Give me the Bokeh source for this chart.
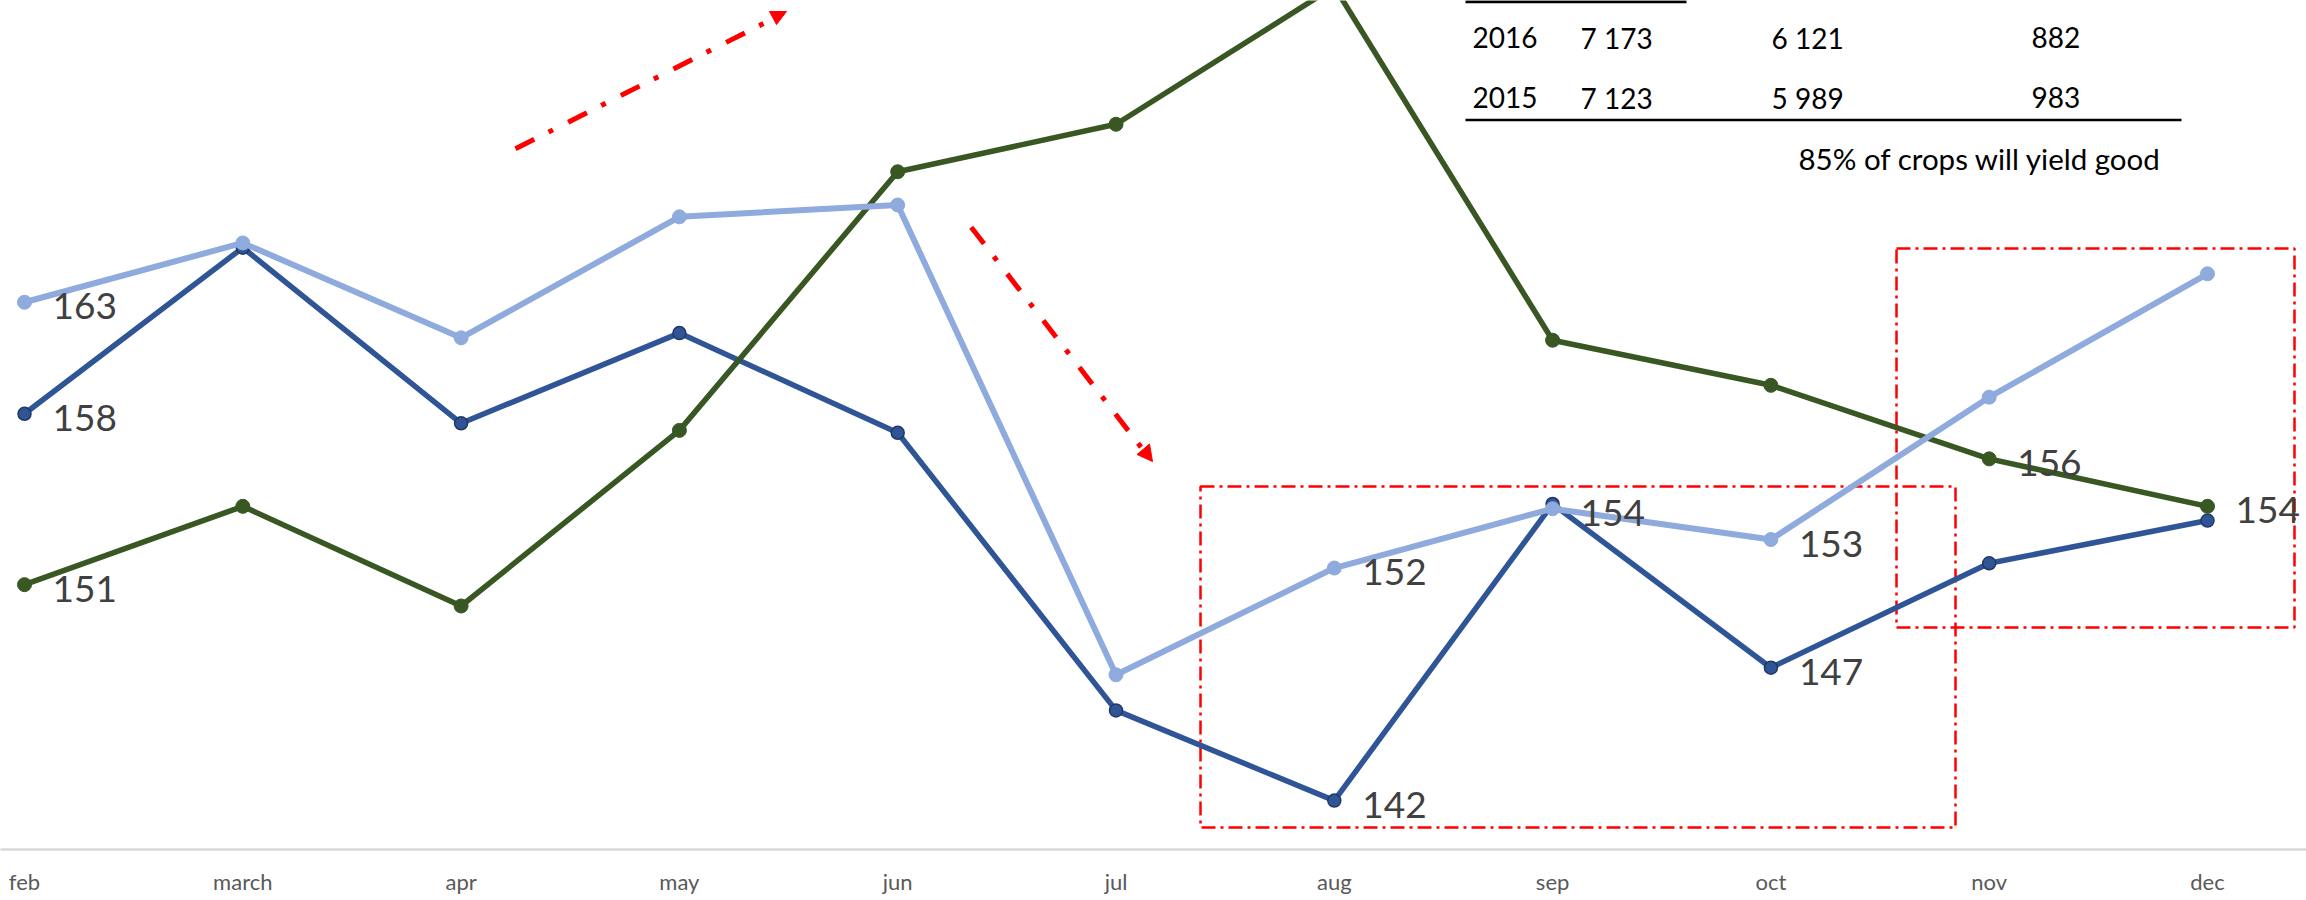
from bokeh.plotting import figure
from bokeh.models import Range1d, FixedTicker
from bokeh.embed import file_html
from bokeh.resources import INLINE
from bokeh.core.properties import value

# ---------------- data ----------------
months = ["feb", "march", "apr", "may", "jun", "jul", "aug", "sep", "oct", "nov", "dec"]
series_dark = [158.1, 165.1, 157.7, 161.5, 157.3, 145.6, 141.8, 154.3, 147.4, 151.8, 153.6]
series_light = [162.8, 165.3, 161.3, 166.4, 166.9, 147.1, 151.6, 154.1, 152.8, 158.8, 164.0]
series_green = [150.9, 154.2, 150.0, 157.4, 168.3, 170.3, 176.1, 161.2, 159.3, 156.2, 154.2]
labelled_dark = ["feb", "aug", "oct"]
labelled_light = ["feb", "aug", "sep", "oct"]
labelled_green = ["feb", "nov", "dec"]
table_years = ["2016", "2015"]
table_col1 = ["7 173", "7 123"]
table_col2 = ["6 121", "5 989"]
table_col3 = ["882", "983"]
note_text = "85% of crops will yield good"

# ---------------- layout ----------------
W, H = 2306, 900
FRAME_H = 849
X_STEP = 218.3          # px per category
X_FIRST = 24.0          # px of first category inside frame
PX_PER_UNIT = 23.73
Y_TOP_PX = 4165.0       # value*PX_PER_UNIT at frame top
x_start = -X_FIRST / X_STEP
x_end = x_start + W / X_STEP
y_top = Y_TOP_PX / PX_PER_UNIT
y_bot = (Y_TOP_PX - FRAME_H) / PX_PER_UNIT


def fx(px):
    return x_start + px / X_STEP


def fy(py):
    return (Y_TOP_PX - py) / PX_PER_UNIT


FONT = value("Lato")
DARK = "#2F5597"
LIGHT = "#8FAADC"
GREEN = "#385723"

p = figure(width=W, height=H, output_backend="svg", toolbar_location=None,
           x_range=Range1d(x_start, x_end), y_range=Range1d(y_bot, y_top),
           y_axis_location=None, min_border_left=0, min_border_right=0,
           min_border_top=0, min_border_bottom=H - FRAME_H)
p.outline_line_color = None
p.grid.visible = False
p.background_fill_color = "white"
p.border_fill_color = "white"

ax = p.xaxis[0]
ax.ticker = FixedTicker(ticks=list(range(len(months))))
ax.major_label_overrides = {i: m for i, m in enumerate(months)}
ax.axis_line_color = "#d9d9d9"
ax.axis_line_width = 2.5
ax.major_tick_line_color = None
ax.minor_tick_line_color = None
ax.major_label_text_font = "Lato"
ax.major_label_text_font_size = "22px"
ax.major_label_text_color = "#595959"
ax.major_label_standoff = 12

# dash-dot boxes
for (l, r, t, b) in [(1200, 1955, 486, 827), (1896, 2294, 248, 627)]:
    p.quad(left=fx(l), right=fx(r), top=fy(t), bottom=fy(b), fill_color=None,
           line_color="#FF0000", line_width=2.5, line_dash="14 5 3 5")

xs = list(range(len(months)))

# lines
p.line(xs, series_dark, line_color=DARK, line_width=5.5)
p.scatter(xs, series_dark, size=13, fill_color=DARK, line_color="#203864", line_width=1.5)
p.line(xs, series_green, line_color=GREEN, line_width=5.5)
p.scatter(xs, series_green, size=14, fill_color=GREEN, line_color=GREEN)
p.line(xs, series_light, line_color=LIGHT, line_width=6)
p.scatter(xs, series_light, size=14, fill_color=LIGHT, line_color=LIGHT)

# data labels
for ser, lab in [(series_dark, labelled_dark), (series_light, labelled_light), (series_green, labelled_green)]:
    idx = [months.index(m) for m in lab]
    p.text(x=idx, y=[ser[i] for i in idx], text=[f"{round(ser[i])}" for i in idx],
           x_offset=28, y_offset=4, text_align="left", text_baseline="middle",
           text_font=FONT, text_font_size="37px", text_color="#404040")

# red arrows
RED = "#FF0000"
p.line([fx(515), fx(763)], [fy(148.3), fy(23)], line_color=RED, line_width=5, line_dash="21 16 5 17")
p.patch([fx(769), fx(786), fx(776)], [fy(11), fy(11), fy(24)], fill_color=RED, line_color=RED)
p.line([fx(970.7), fx(1140.5)], [fy(226.7), fy(446.6)], line_color=RED, line_width=5, line_dash="21 16 5 17")
p.patch([fx(1136.5), fx(1149), fx(1152)], [fy(454), fy(443.5), fy(461)], fill_color=RED, line_color=RED)

# table
p.line([fx(1465), fx(1686)], [fy(1.2), fy(1.2)], line_color="black", line_width=3)
p.line([fx(1465), fx(2181)], [fy(119.5), fy(119.5)], line_color="black", line_width=2.5)
row_y = [fy(37), fy(97)]
for col, xpx in [(table_years, 1472), (table_col1, 1580), (table_col2, 1771), (table_col3, 2031)]:
    p.text(x=[fx(xpx)] * len(col), y=row_y, text=col, text_align="left", text_baseline="middle",
           text_font=FONT, text_font_size="28px", text_color="black")
p.text(x=[fx(1798)], y=[fy(158)], text=[note_text], text_align="left", text_baseline="middle",
       text_font=FONT, text_font_size="29.5px", text_color="black")

open("out.html", "w").write(file_html(p, INLINE))
